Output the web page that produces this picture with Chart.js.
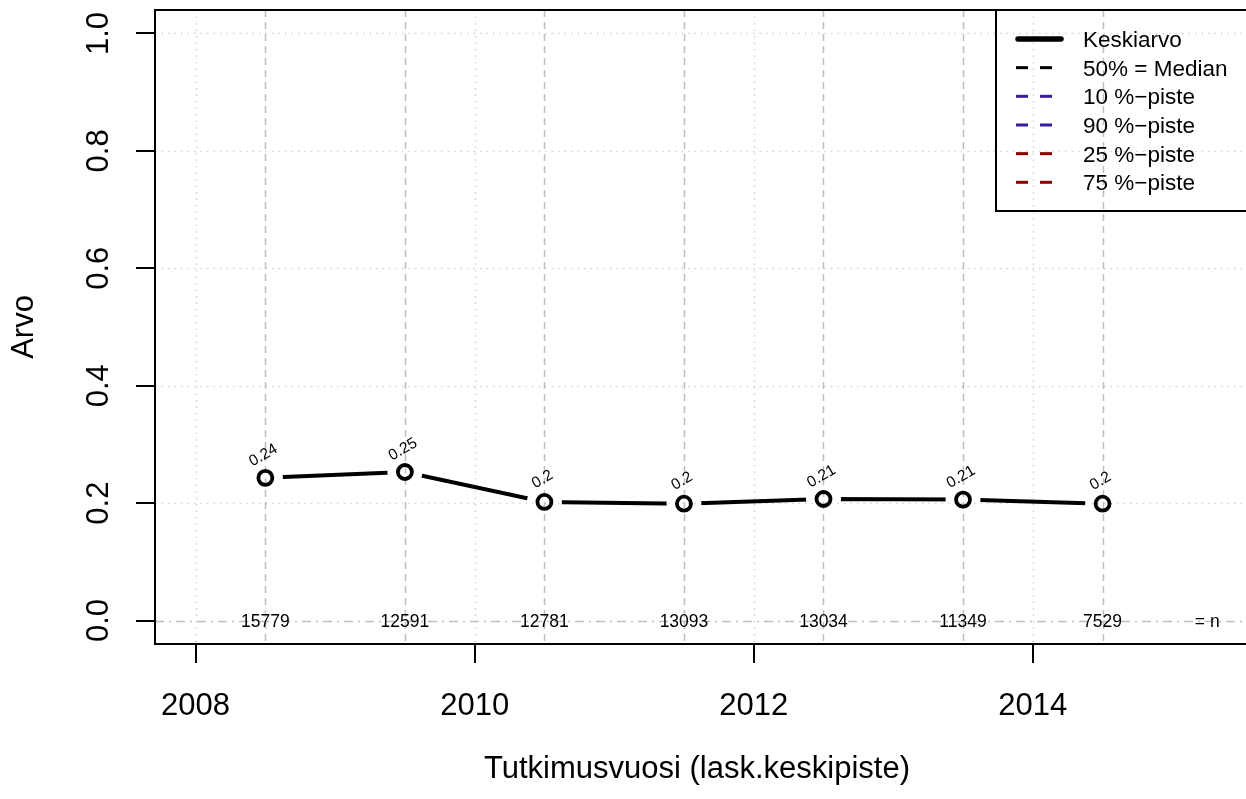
<!DOCTYPE html>
<html>
<head>
<meta charset="utf-8">
<script src="https://cdn.jsdelivr.net/npm/chart.js@4/dist/chart.umd.min.js"></script>
<style>
  html, body { margin: 0; padding: 0; background: #fff; overflow: hidden; }
  canvas { display: block; }
</style>
</head>
<body>
<canvas id="c" width="1246" height="799"></canvas>
<script>
// ---- data ----
const years = [2008.5, 2009.5, 2010.5, 2011.5, 2012.5, 2013.5, 2014.5];
const means = [0.243, 0.253, 0.202, 0.199, 0.207, 0.206, 0.199];
const meanLabels = ["0.24", "0.25", "0.2", "0.2", "0.21", "0.21", "0.2"];
const nValues = [15779, 12591, 12781, 13093, 13034, 11349, 7529];
const nLabelYear = 2015.25;
const xTicks = [2008, 2010, 2012, 2014];
const yTicks = [0, 0.2, 0.4, 0.6, 0.8, 1.0];
const yTickLabels = ["0.0", "0.2", "0.4", "0.6", "0.8", "1.0"];
const legendNames = ["Keskiarvo", "50% = Median", "10 %\u2212piste", "90 %\u2212piste", "25 %\u2212piste", "75 %\u2212piste"];
const legendColors = ["#000000", "#000000", "#3b1c9c", "#3b1c9c", "#8b0000", "#8b0000"];
const xTitle = "Tutkimusvuosi (lask.keskipiste)";
const yTitle = "Arvo";

const FONT = "'Liberation Sans', Arial, Helvetica, sans-serif";

const pts = years.map((x, i) => ({ x: x, y: means[i] }));

const drawPlugin = {
  id: 'rbase',
  beforeDatasetsDraw(chart) {
    const ctx = chart.ctx, xs = chart.scales.x, ys = chart.scales.y, a = chart.chartArea;
    ctx.save();
    // dotted light grid
    ctx.strokeStyle = '#d3d3d3';
    ctx.lineWidth = 1.5;
    ctx.setLineDash([1.5, 5]);
    xTicks.forEach(v => {
      const px = Math.round(xs.getPixelForValue(v)) + 0.5;
      ctx.beginPath(); ctx.moveTo(px, a.top); ctx.lineTo(px, a.bottom); ctx.stroke();
    });
    yTicks.forEach(v => {
      if (v === 0) return;
      const py = Math.round(ys.getPixelForValue(v)) + 0.5;
      ctx.beginPath(); ctx.moveTo(a.left, py); ctx.lineTo(a.right, py); ctx.stroke();
    });
    // dashed verticals at data years
    ctx.strokeStyle = '#bebebe';
    ctx.setLineDash([7, 5]);
    years.forEach(v => {
      const px = Math.round(xs.getPixelForValue(v)) + 0.5;
      ctx.beginPath(); ctx.moveTo(px, a.top); ctx.lineTo(px, a.bottom); ctx.stroke();
    });
    // dot-dash at zero
    ctx.setLineDash([9, 5, 2, 5]);
    const p0 = Math.round(ys.getPixelForValue(0)) + 0.5;
    ctx.beginPath(); ctx.moveTo(a.left, p0); ctx.lineTo(a.right, p0); ctx.stroke();
    ctx.setLineDash([]);
    // n labels
    ctx.fillStyle = '#000';
    ctx.font = '17.5px ' + FONT;
    ctx.textAlign = 'center';
    ctx.textBaseline = 'alphabetic';
    const ny = ys.getPixelForValue(0) + 6.3;
    years.forEach((v, i) => {
      ctx.fillText(String(nValues[i]), xs.getPixelForValue(v), ny);
    });
    ctx.fillText('= n', xs.getPixelForValue(nLabelYear), ny);
    ctx.restore();
  },
  beforeDatasetDraw(chart, args) {
    if (args.index !== 0) return;
    const ctx = chart.ctx;
    const meta = chart.getDatasetMeta(1);
    ctx.save();
    ctx.beginPath();
    ctx.rect(0, 0, chart.width, chart.height);
    meta.data.forEach(el => {
      ctx.moveTo(el.x + 17.5, el.y);
      ctx.arc(el.x, el.y, 17.5, 0, Math.PI * 2);
    });
    ctx.clip('evenodd');
  },
  afterDatasetDraw(chart, args) {
    if (args.index !== 0) return;
    chart.ctx.restore();
  },
  afterDatasetsDraw(chart) {
    const ctx = chart.ctx, xs = chart.scales.x, ys = chart.scales.y, a = chart.chartArea;
    ctx.save();
    ctx.fillStyle = '#000';
    // value labels
    ctx.font = '15.5px ' + FONT;
    ctx.textAlign = 'center';
    ctx.textBaseline = 'middle';
    years.forEach((v, i) => {
      const px = xs.getPixelForValue(v), py = ys.getPixelForValue(means[i]);
      ctx.save();
      ctx.translate(px - 2, py - 22.5);
      ctx.rotate(-Math.PI / 6);
      ctx.fillText(meanLabels[i], 0, 0);
      ctx.restore();
    });
    // box (left, top, bottom)
    ctx.strokeStyle = '#000';
    ctx.lineWidth = 2;
    ctx.beginPath();
    ctx.moveTo(a.right + 5, a.top); ctx.lineTo(a.left, a.top);
    ctx.lineTo(a.left, a.bottom); ctx.lineTo(a.right + 5, a.bottom);
    ctx.stroke();
    // ticks
    ctx.beginPath();
    xTicks.forEach(v => {
      const px = Math.round(xs.getPixelForValue(v));
      ctx.moveTo(px, a.bottom); ctx.lineTo(px, a.bottom + 19);
    });
    yTicks.forEach(v => {
      const py = Math.round(ys.getPixelForValue(v));
      ctx.moveTo(a.left, py); ctx.lineTo(a.left - 19, py);
    });
    ctx.stroke();
    // tick labels
    ctx.font = '31px ' + FONT;
    ctx.textAlign = 'center';
    ctx.textBaseline = 'alphabetic';
    xTicks.forEach(v => {
      ctx.fillText(String(v), xs.getPixelForValue(v), 715);
    });
    yTicks.forEach((v, i) => {
      ctx.save();
      ctx.translate(108, ys.getPixelForValue(v));
      ctx.rotate(-Math.PI / 2);
      ctx.fillText(yTickLabels[i], 0, 0);
      ctx.restore();
    });
    // titles
    ctx.fillText(xTitle, 697, 778);
    ctx.save();
    ctx.translate(33, (a.top + a.bottom) / 2);
    ctx.rotate(-Math.PI / 2);
    ctx.fillText(yTitle, 0, 0);
    ctx.restore();
    // legend
    ctx.lineWidth = 2;
    ctx.strokeStyle = '#000';
    ctx.strokeRect(996, a.top, 260, 201);
    ctx.font = '22.5px ' + FONT;
    ctx.textAlign = 'left';
    legendNames.forEach((name, i) => {
      const ry = 39 + i * 28.66;
      ctx.strokeStyle = legendColors[i];
      if (i === 0) { ctx.lineWidth = 5.5; ctx.setLineDash([]); ctx.lineCap = 'round'; }
      else { ctx.lineWidth = 3; ctx.setLineDash([12, 12]); ctx.lineCap = 'butt'; }
      ctx.beginPath();
      ctx.moveTo(i === 0 ? 1018 : 1016, ry);
      ctx.lineTo(i === 0 ? 1061 : 1064, ry);
      ctx.stroke();
      ctx.fillStyle = '#000';
      ctx.fillText(name, 1083, ry + 8);
    });
    ctx.restore();
  }
};

new Chart(document.getElementById('c'), {
  type: 'line',
  data: {
    datasets: [
      {
        data: pts, order: 2,
        borderColor: '#000', borderWidth: 4, pointRadius: 0,
        fill: false, tension: 0
      },
      {
        data: pts, order: 1, showLine: false,
        pointRadius: 7, pointBorderWidth: 3.8,
        pointBorderColor: '#000', pointBackgroundColor: 'rgba(0,0,0,0)',
        pointHoverRadius: 7
      }
    ]
  },
  options: {
    responsive: false,
    animation: false,
    devicePixelRatio: 1,
    layout: { autoPadding: false, padding: { top: 10, left: 0, right: 0, bottom: 0 } },
    plugins: { legend: { display: false }, tooltip: { enabled: false }, title: { display: false } },
    events: [],
    scales: {
      x: {
        type: 'linear', min: 2007.709, max: 2015.528,
        ticks: { display: false }, grid: { display: false }, border: { display: false },
        afterFit: s => { s.height = 155; }
      },
      y: {
        type: 'linear', min: -0.04, max: 1.04,
        ticks: { display: false }, grid: { display: false }, border: { display: false },
        afterFit: s => { s.width = 155; }
      }
    }
  },
  plugins: [drawPlugin]
});
</script>
</body>
</html>
